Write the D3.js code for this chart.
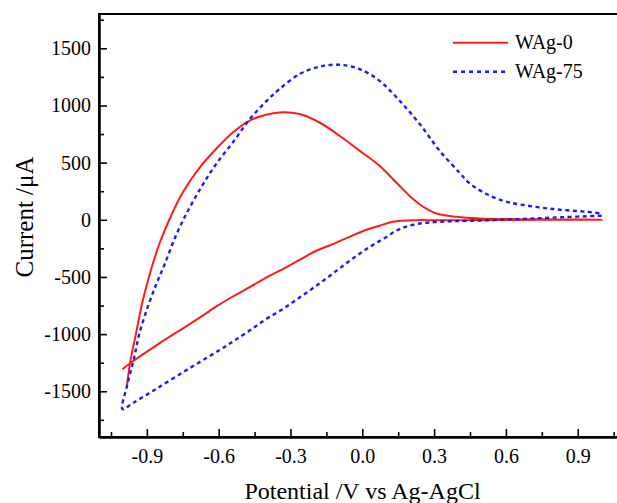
<!DOCTYPE html>
<html>
<head>
<meta charset="utf-8">
<script src="https://cdn.jsdelivr.net/npm/d3@7"></script>
<style>
  html, body { margin: 0; padding: 0; background: #fff; }
  svg { display: block; }
  text { font-family: "Liberation Serif", "Times New Roman", serif; fill: #000; }
</style>
</head>
<body>
<svg id="chart" width="617" height="503"></svg>
<script>
// Cyclic voltammograms: potential (V vs Ag-AgCl) and current (µA)
const seriesNames = ["WAg-0", "WAg-75"];

// WAg-0: anodic branch from the negative limit up to +1.0 V, then back
const wag0Potential = [
  -0.984, -0.971, -0.946, -0.918, -0.883, -0.848, -0.799, -0.751, -0.681, -0.611,
  -0.541, -0.472, -0.402, -0.346, -0.262, -0.179, -0.095, -0.011, 0.072, 0.142,
  0.212, 0.254, 0.310, 0.393, 0.491, 0.742, 1.000,
  0.742, 0.323, 0.226, 0.128, 0.072, 0.017, -0.053, -0.123, -0.192, -0.262,
  -0.332, -0.402, -0.472, -0.541, -0.611, -0.681, -0.723, -0.862, -0.960, -1.002
];
const wag0Current = [
  -1467, -1262, -1000, -715, -440, -212, 35, 236, 452, 619,
  764, 866, 919, 939, 925, 851, 735, 604, 472, 326,
  181, 114, 55, 26, 11, 4, 0,
  0, -4, -3, -17, -52, -87, -149, -213, -271, -350,
  -431, -505, -592, -671, -760, -858, -915, -1100, -1240, -1306
];

// WAg-75: cathodic branch from +1.0 V down to -1.0 V, then the anodic return
const wag75Potential = [
  1.000, 0.826, 0.658, 0.449, 0.323, 0.226, 0.156, 0.086, 0.017, -0.053,
  -0.123, -0.192, -0.262, -0.332, -0.402, -0.472, -0.541, -0.597, -0.723, -0.862,
  -0.960, -1.002,
  -0.981, -0.953, -0.932, -0.897, -0.862, -0.827, -0.778, -0.723, -0.667, -0.611,
  -0.541, -0.472, -0.402, -0.346, -0.262, -0.179, -0.095, -0.011, 0.072, 0.156,
  0.240, 0.323, 0.407, 0.449, 0.519, 0.588, 0.658, 0.798, 0.937, 1.000
];
const wag75Current = [
  35, 22, 6, -9, -17, -38, -81, -169, -256, -359,
  -470, -577, -680, -781, -869, -971, -1065, -1140, -1300, -1480,
  -1605, -1656,
  -1437, -1205, -1000, -767, -570, -395, -135, 100, 305, 487,
  676, 875, 1035, 1143, 1275, 1339, 1356, 1318, 1216, 1041,
  837, 604, 410, 318, 225, 166, 134, 94, 70, 55
];

const xMajorTicks = [-0.9, -0.6, -0.3, 0.0, 0.3, 0.6, 0.9];
const xMinorTicks = [-1.05, -0.75, -0.45, -0.15, 0.15, 0.45, 0.75, 1.05];
const yMajorTicks = [-1500, -1000, -500, 0, 500, 1000, 1500];
const yMinorTicks = [-1750, -1250, -750, -250, 250, 750, 1250, 1750];

const colors = ["#ff1a1a", "#1a1aff"];

const svg = d3.select("#chart");
const margin = { left: 99, top: 14, bottom: 437 };
const plotRight = 625.6;

const x = d3.scaleLinear().domain([-1.1, 1.1]).range([margin.left, plotRight]);
const y = d3.scaleLinear().domain([-1900, 1800]).range([margin.bottom, margin.top]);

// Labels use a plain hyphen for negative numbers
const fmtX = d => d3.format(".1f")(d).replace("\u2212", "-");
const fmtY = d => d3.format("d")(d).replace("\u2212", "-");

// Frame (right side runs past the canvas edge)
svg.append("rect")
  .attr("x", margin.left).attr("y", margin.top)
  .attr("width", plotRight - margin.left).attr("height", margin.bottom - margin.top)
  .attr("fill", "none").attr("stroke", "#000").attr("stroke-width", 2);

// Axes with inward ticks
const xAxis = svg.append("g").attr("transform", `translate(0,${margin.bottom})`)
  .call(d3.axisBottom(x).tickValues(xMajorTicks).tickSizeInner(-8).tickSizeOuter(0)
    .tickFormat(fmtX));
svg.append("g").attr("transform", `translate(0,${margin.bottom})`)
  .call(d3.axisBottom(x).tickValues(xMinorTicks).tickSizeInner(-5).tickSizeOuter(0).tickFormat(""));

const yAxis = svg.append("g").attr("transform", `translate(${margin.left},0)`)
  .call(d3.axisLeft(y).tickValues(yMajorTicks).tickSizeInner(-8).tickSizeOuter(0)
    .tickFormat(fmtY));
svg.append("g").attr("transform", `translate(${margin.left},0)`)
  .call(d3.axisLeft(y).tickValues(yMinorTicks).tickSizeInner(-5).tickSizeOuter(0).tickFormat(""));

svg.selectAll(".domain").attr("stroke", "#000").attr("stroke-width", 2);
svg.selectAll(".tick line").attr("stroke", "#000").attr("stroke-width", 1.6);
svg.selectAll(".tick text")
  .style("font-family", "'Liberation Serif', 'Times New Roman', serif")
  .style("font-size", "20px").attr("fill", "#000");
xAxis.selectAll(".tick text").attr("dy", "0.71em").attr("y", 12);
yAxis.selectAll(".tick text").attr("x", -8);

// Axis titles
svg.append("text")
  .attr("x", 362.5).attr("y", 499)
  .attr("text-anchor", "middle")
  .style("font-size", "24px")
  .text("Potential /V vs Ag-AgCl");

svg.append("text")
  .attr("transform", "translate(33,217) rotate(-90)")
  .attr("text-anchor", "middle")
  .style("font-size", "25px")
  .text("Current /\u03bcA");

// Curves
const line = d3.line()
  .x(d => x(d[0]))
  .y(d => y(d[1]))
  .curve(d3.curveCatmullRom.alpha(0.5));

const wag0 = wag0Potential.map((v, i) => [v, wag0Current[i]]);
const wag75 = wag75Potential.map((v, i) => [v, wag75Current[i]]);

svg.append("path")
  .attr("d", line(wag0))
  .attr("fill", "none")
  .attr("stroke", colors[0])
  .attr("stroke-width", 2);

svg.append("path")
  .attr("d", line(wag75))
  .attr("fill", "none")
  .attr("stroke", colors[1])
  .attr("stroke-width", 2.4)
  .attr("stroke-dasharray", "4,3.5");

// Legend
const legend = svg.append("g");
const legendRows = [
  { name: seriesNames[0], color: colors[0], dash: null, width: 2, y: 42.7 },
  { name: seriesNames[1], color: colors[1], dash: "4,4", width: 2.4, y: 71.7 }
];
legendRows.forEach(r => {
  legend.append("line")
    .attr("x1", 453).attr("x2", 508)
    .attr("y1", r.y).attr("y2", r.y)
    .attr("stroke", r.color)
    .attr("stroke-width", r.width)
    .attr("stroke-dasharray", r.dash);
  legend.append("text")
    .attr("x", 515).attr("y", r.y + 6.5)
    .style("font-size", "20px")
    .text(r.name);
});
</script>
</body>
</html>
